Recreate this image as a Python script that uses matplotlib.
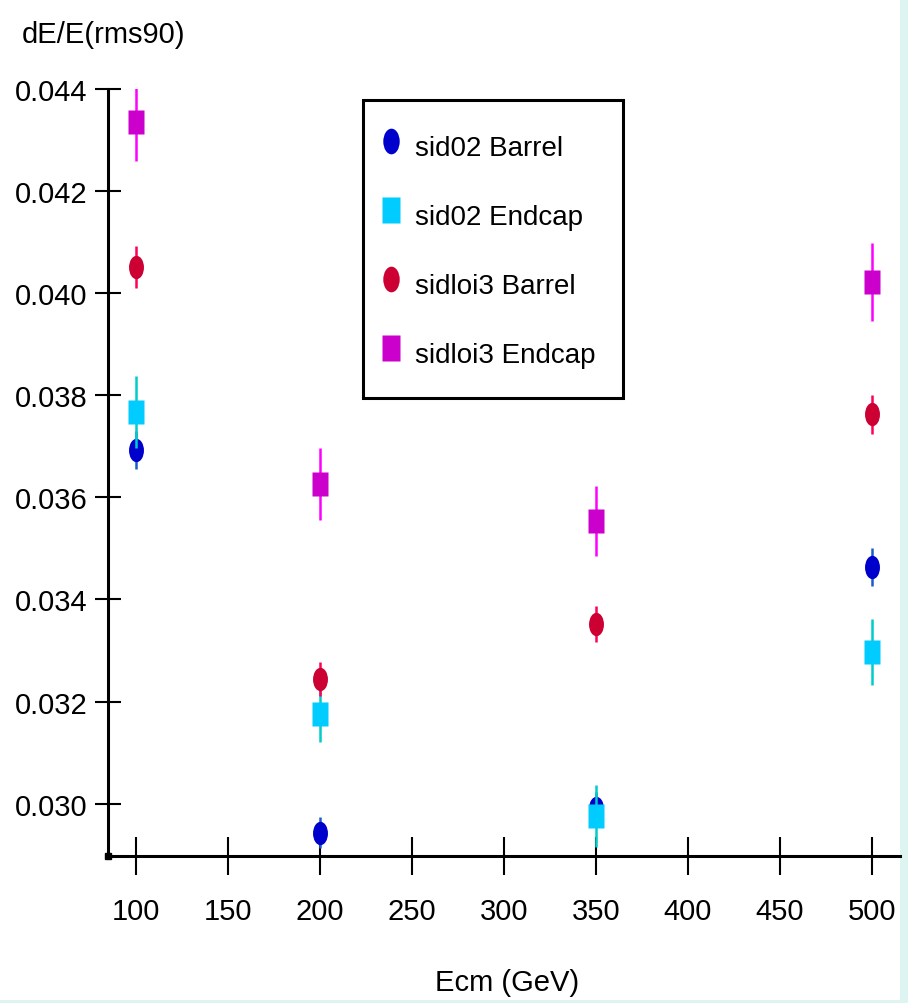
import numpy as np
import matplotlib
matplotlib.use("Agg")
import matplotlib.pyplot as plt
from matplotlib.path import Path
from matplotlib.patches import Rectangle

plt.rcParams['font.family'] = ['Liberation Sans Narrow', 'Liberation Sans', 'DejaVu Sans']

# energy points and resolution (rms90) with errors
ecm = [100, 200, 350, 500]

sid02_barrel = [0.03693, 0.02943, 0.02992, 0.03464]
sid02_barrel_err = [0.00037, 0.0003, 0.0003, 0.00037]

sid02_endcap = [0.03767, 0.03176, 0.02976, 0.03297]
sid02_endcap_err = [0.0007, 0.00055, 0.0006, 0.00065]

sidloi3_barrel = [0.04051, 0.03244, 0.03352, 0.03763]
sidloi3_barrel_err = [0.00041, 0.00033, 0.00035, 0.00038]

sidloi3_endcap = [0.04335, 0.03626, 0.03554, 0.04022]
sidloi3_endcap_err = [0.00076, 0.0007, 0.00069, 0.00077]

labels = ['sid02 Barrel', 'sid02 Endcap', 'sidloi3 Barrel', 'sidloi3 Endcap']

# tall ellipse / tall rectangle markers
circ = Path.unit_circle()
ellipse = Path(circ.vertices * [0.64, 1.0], circ.codes)
rect = Path([(-0.68, -1), (0.68, -1), (0.68, 1), (-0.68, 1), (-0.68, -1)],
            [Path.MOVETO, Path.LINETO, Path.LINETO, Path.LINETO, Path.CLOSEPOLY])

W, H = 908, 1004
fig = plt.figure(figsize=(W / 100, H / 100), dpi=100, facecolor='#ddf4f0')
fig.patches.append(Rectangle((0, 3 / H), 900 / W, 1 - 3 / H, transform=fig.transFigure,
                             facecolor='white', edgecolor='none', zorder=-5))

ax = fig.add_axes([108 / W, (H - 856.7) / H, (900 - 108) / W, (856.7 - 90) / H])
ax.set_zorder(1)
ax.patch.set_alpha(0)

series = [
    (sid02_barrel, sid02_barrel_err, ellipse, '#0000cc', '#1a5ccc'),
    (sid02_endcap, sid02_endcap_err, rect, '#00ccff', '#00cccc'),
    (sidloi3_barrel, sidloi3_barrel_err, ellipse, '#cc0033', '#ff0055'),
    (sidloi3_endcap, sidloi3_endcap_err, rect, '#cc00cc', '#ff00ff'),
]

handles = []
for i, (vals, errs, mk, col, ecol) in enumerate(series):
    ax.errorbar(ecm, vals, yerr=errs, fmt='none', ecolor=ecol, elinewidth=1.8,
                capsize=0, zorder=2 + 2 * i)
    h, = ax.plot(ecm, vals, linestyle='none', marker=mk, markersize=16.8,
                 markerfacecolor=col, markeredgecolor='none', zorder=3 + 2 * i)
    handles.append(h)

ax.set_xlim(84.8, 515.2)
ax.set_ylim(0.02898, 0.044)
ax.set_xticks(np.arange(100, 501, 50))
ax.set_yticks(np.arange(0.030, 0.0441, 0.002))
ax.yaxis.set_major_formatter(matplotlib.ticker.FormatStrFormatter('%.3f'))

for s in ['top', 'right']:
    ax.spines[s].set_visible(False)
for s in ['left', 'bottom']:
    ax.spines[s].set_linewidth(2.2)

ax.tick_params(axis='y', direction='inout', length=18.7, width=1.5, pad=5.5, labelsize=21)
ax.tick_params(axis='x', direction='inout', length=27, width=1.5, pad=16, labelsize=21)

# small square at the axes origin
ax.plot([0], [0], marker='s', markersize=4.5, color='black', transform=ax.transAxes,
        clip_on=False, zorder=20)

leg = ax.legend(handles, labels, loc='upper left', bbox_to_anchor=(363 / W, 1 - 101 / H),
                bbox_transform=fig.transFigure, fontsize=20, frameon=True, fancybox=False,
                edgecolor='black', framealpha=1, borderpad=1.0, labelspacing=1.2,
                handlelength=0.05, handleheight=1.6, handletextpad=0.82, borderaxespad=0,
                markerscale=1.1)
leg.get_frame().set_linewidth(2.2)

fig.text(22 / W, 1 - 35 / H, 'dE/E(rms90)', fontsize=21, ha='left', va='center')
fig.text(507 / W, 1 - 983 / H, 'Ecm (GeV)', fontsize=21, ha='center', va='center')

fig.savefig('out.png', dpi=100, facecolor=fig.get_facecolor())
